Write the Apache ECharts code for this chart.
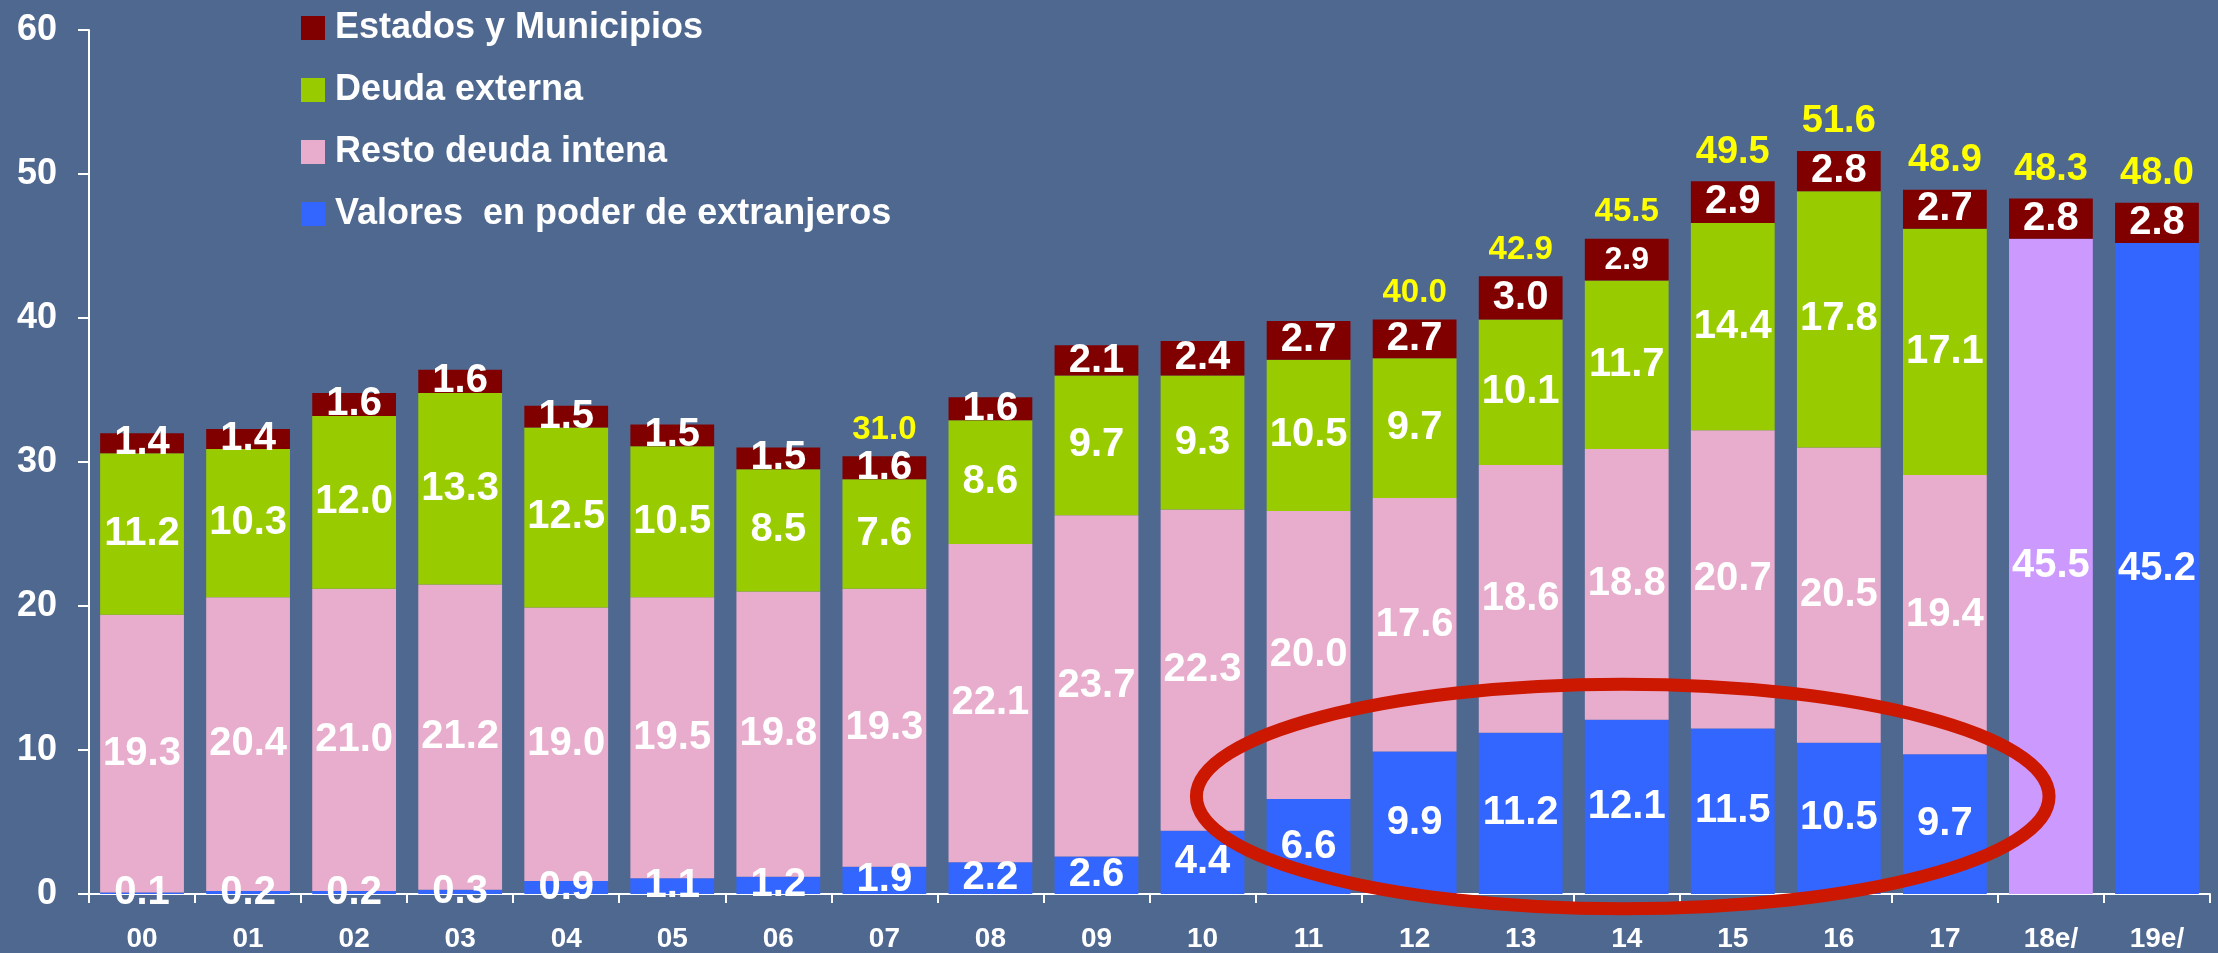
<!DOCTYPE html>
<html>
<head>
<meta charset="utf-8">
<script src="https://cdn.jsdelivr.net/npm/echarts@6/dist/echarts.min.js"></script>
<style>
html,body{margin:0;padding:0;background:#4f6890;}
#c{width:2218px;height:953px;}
</style>
</head>
<body>
<div id="c"></div>
<script>
const categories = ['00','01','02','03','04','05','06','07','08','09','10','11','12','13','14','15','16','17','18e/','19e/'];
const valoresExtranjeros = [0.1,0.2,0.2,0.3,0.9,1.1,1.2,1.9,2.2,2.6,4.4,6.6,9.9,11.2,12.1,11.5,10.5,9.7,45.5,45.2];
const restoDeudaInterna = [19.3,20.4,21.0,21.2,19.0,19.5,19.8,19.3,22.1,23.7,22.3,20.0,17.6,18.6,18.8,20.7,20.5,19.4,null,null];
const deudaExterna = [11.2,10.3,12.0,13.3,12.5,10.5,8.5,7.6,8.6,9.7,9.3,10.5,9.7,10.1,11.7,14.4,17.8,17.1,null,null];
const estadosMunicipios = [1.4,1.4,1.6,1.6,1.5,1.5,1.5,1.6,1.6,2.1,2.4,2.7,2.7,3.0,2.9,2.9,2.8,2.7,2.8,2.8];
const totals = [null,null,null,null,null,null,null,31.0,null,null,null,null,40.0,42.9,45.5,49.5,51.6,48.9,48.3,48.0];
const yTicks = [0,10,20,30,40,50,60];

const FONT = '"Liberation Sans", Arial, sans-serif';
const BG = '#4f6890';
const segLabel = {
  show: true, position: 'inside', color: '#ffffff', fontWeight: 'bold',
  fontSize: 40, fontFamily: FONT,
  formatter: p => (p.value == null ? '' : Number(p.value).toFixed(1))
};

const chart = echarts.init(document.getElementById('c'), null, {renderer: 'canvas'});
const option = {
  backgroundColor: BG,
  animation: false,
  grid: {left: 89, right: 8, top: 30, bottom: 59, containLabel: false},
  legend: {
    data: ['Estados y Municipios', 'Deuda externa', 'Resto deuda intena', 'Valores  en poder de extranjeros'],
    orient: 'vertical', left: 296, top: 5,
    itemWidth: 24, itemHeight: 24, itemGap: 26, icon: 'rect',
    textStyle: {color: '#ffffff', fontWeight: 'bold', fontSize: 36, fontFamily: FONT, lineHeight: 36, padding: [0,0,0,5]},
    selectedMode: false
  },
  xAxis: {
    type: 'category', data: categories,
    axisLine: {show: true, lineStyle: {color: '#ffffff', width: 2}},
    axisTick: {show: true, length: 9, lineStyle: {color: '#ffffff', width: 2}},
    axisLabel: {color: '#ffffff', fontWeight: 'bold', fontSize: 28, fontFamily: FONT, margin: 31, interval: 0}
  },
  yAxis: {
    type: 'value', min: yTicks[0], max: yTicks[yTicks.length - 1], interval: yTicks[1] - yTicks[0],
    axisLine: {show: true, lineStyle: {color: '#ffffff', width: 2}},
    axisTick: {show: true, length: 11, lineStyle: {color: '#ffffff', width: 2}},
    splitLine: {show: false},
    axisLabel: {color: '#ffffff', fontWeight: 'bold', fontSize: 36, fontFamily: FONT, margin: 32}
  },
  series: [
    {
      name: 'Valores  en poder de extranjeros', type: 'bar', stack: 'd', data: valoresExtranjeros,
      barCategoryGap: '21%',
      itemStyle: {color: p => (p.name === '18e/' ? '#cc99ff' : '#3366ff')},
      color: '#3366ff',
      label: segLabel
    },
    {
      name: 'Resto deuda intena', type: 'bar', stack: 'd', data: restoDeudaInterna,
      itemStyle: {color: '#e8adcc'}, label: segLabel
    },
    {
      name: 'Deuda externa', type: 'bar', stack: 'd', data: deudaExterna,
      itemStyle: {color: '#99cc00'}, label: segLabel
    },
    {
      name: 'Estados y Municipios', type: 'bar', stack: 'd', data: estadosMunicipios,
      itemStyle: {color: '#800000'},
      label: Object.assign({}, segLabel, {
        formatter: p => (p.name === '14' ? '{s|' + Number(p.value).toFixed(1) + '}' : Number(p.value).toFixed(1)),
        rich: {s: {fontSize: 32, fontWeight: 'bold', color: '#ffffff', fontFamily: FONT}}
      })
    },
    {
      name: 'Total', type: 'bar', stack: 'd', data: categories.map(() => 0),
      itemStyle: {color: 'rgba(0,0,0,0)'},
      silent: true,
      label: {
        show: true, position: 'top', distance: 10,
        formatter: p => {
          const t = totals[p.dataIndex];
          if (t == null) return '';
          return (parseInt(p.name, 10) >= 15 ? '{b|' : '{a|') + t.toFixed(1) + '}';
        },
        rich: {
          a: {fontSize: 33, fontWeight: 'bold', color: '#ffff00', fontFamily: FONT},
          b: {fontSize: 38, fontWeight: 'bold', color: '#ffff00', fontFamily: FONT}
        }
      }
    }
  ]
};
chart.setOption(option);

// Red annotation ellipse, positioned in data coordinates
const p14 = chart.convertToPixel({xAxisIndex: 0, yAxisIndex: 0}, ['14', 6.77]);
const p15 = chart.convertToPixel({xAxisIndex: 0, yAxisIndex: 0}, ['15', 0]);
const p0 = chart.convertToPixel({xAxisIndex: 0, yAxisIndex: 0}, ['14', 0]);
const p10 = chart.convertToPixel({xAxisIndex: 0, yAxisIndex: 0}, ['14', 10]);
const dx = p15[0] - p0[0];
const dy = (p0[1] - p10[1]) / 10;
chart.setOption({
  graphic: [{
    type: 'ellipse',
    shape: {cx: p14[0] - 4, cy: p14[1], rx: 4.02 * dx, ry: 7.8 * dy},
    style: {fill: 'none', stroke: '#cc1800', lineWidth: 13},
    z: 100, silent: true
  }]
});
</script>
</body>
</html>
